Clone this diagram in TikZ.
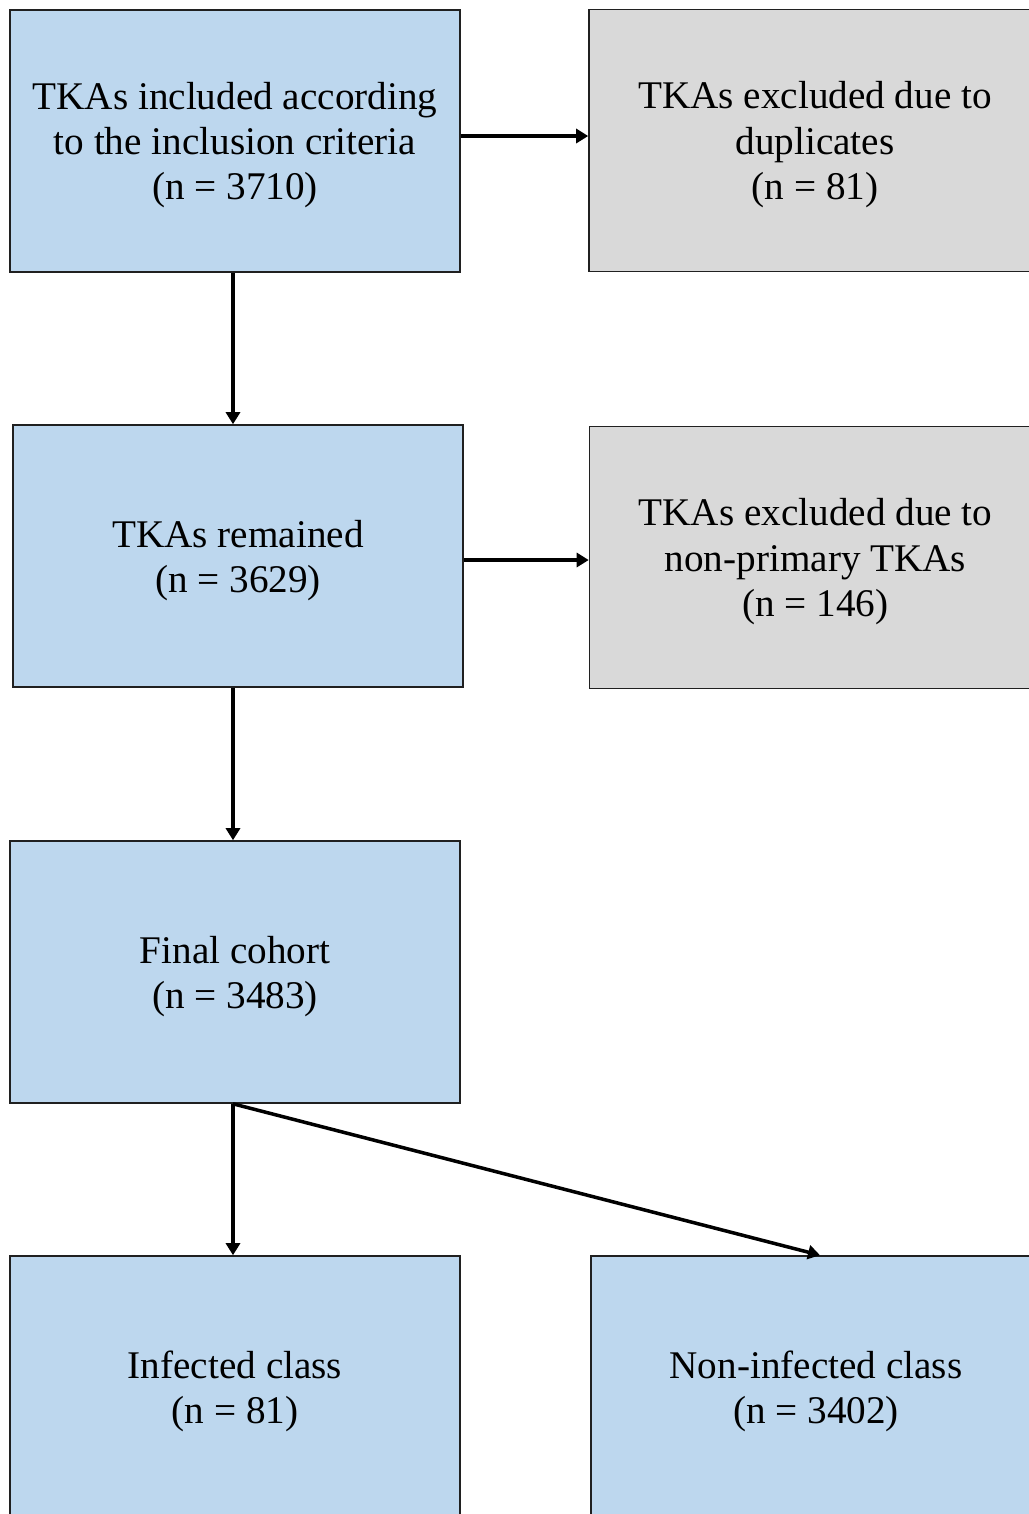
\documentclass[tikz,border=0pt]{standalone}
\usepackage{fontspec}
\setmainfont{Liberation Serif}
\usepackage{tikz}
\usetikzlibrary{arrows.meta,positioning,calc}
\definecolor{inclbg}{HTML}{BDD7EE}
\definecolor{exclbg}{HTML}{D9D9D9}
\definecolor{edgec}{HTML}{202020}

\begin{document}
\begin{tikzpicture}[font=\fontsize{11.15}{12.85}\selectfont,
  incl/.style={draw=edgec,line width=0.45pt,fill=inclbg,minimum width=4.5cm,
               minimum height=2.62cm,align=center,inner sep=2pt,text depth=0pt},
  excl/.style={incl,fill=exclbg,minimum width=4.52cm},
  arr/.style={line width=1pt,-{Triangle[length=1.2mm,width=1.4mm]}},
]
\useasboundingbox (0,0) rectangle (10.29,-15.14);
\clip (0,0) rectangle (10.29,-15.14);

\node[incl] (included) at (2.35,-1.41)
  {TKAs included according\\to the inclusion criteria\\(n = 3710)};
\node[excl] (dupl) at (8.15,-1.405)
  {TKAs excluded due to\\duplicates\\(n = 81)};

\node[incl] (remained) at (2.38,-5.56) {TKAs remained\\(n = 3629)};
\node[excl] (nonprim) at (8.155,-5.575)
  {TKAs excluded due to\\non-primary TKAs\\(n = 146)};

\node[incl] (final) at (2.35,-9.72) {Final cohort\\(n = 3483)};

\node[incl] (infected) at (2.35,-13.87) {Infected class\\(n = 81)};
\node[incl] (noninf) at (8.16,-13.87) {Non-infected class\\(n = 3402)};

\draw[arr] ($(included.east)+(0,0.05)$) -- ($(included.east -| dupl.west)+(0,0.05)$);
\draw[arr] ($(included.south)+(-0.02,0)$) -- ($(included.south |- remained.north)+(-0.02,0)$);
\draw[arr] ($(remained.east)+(0,-0.04)$) -- ($(remained.east -| nonprim.west)+(0,-0.04)$);
\draw[arr] ($(remained.south)+(-0.05,0)$) -- ($(remained.south |- final.north)+(-0.05,0)$);
\draw[arr] ($(final.south)+(-0.02,0)$) -- ($(final.south |- infected.north)+(-0.02,0)$);
\draw[arr] ($(final.south)+(-0.02,0)$) -- ($(noninf.north)+(0.04,0)$);
\end{tikzpicture}
\end{document}
